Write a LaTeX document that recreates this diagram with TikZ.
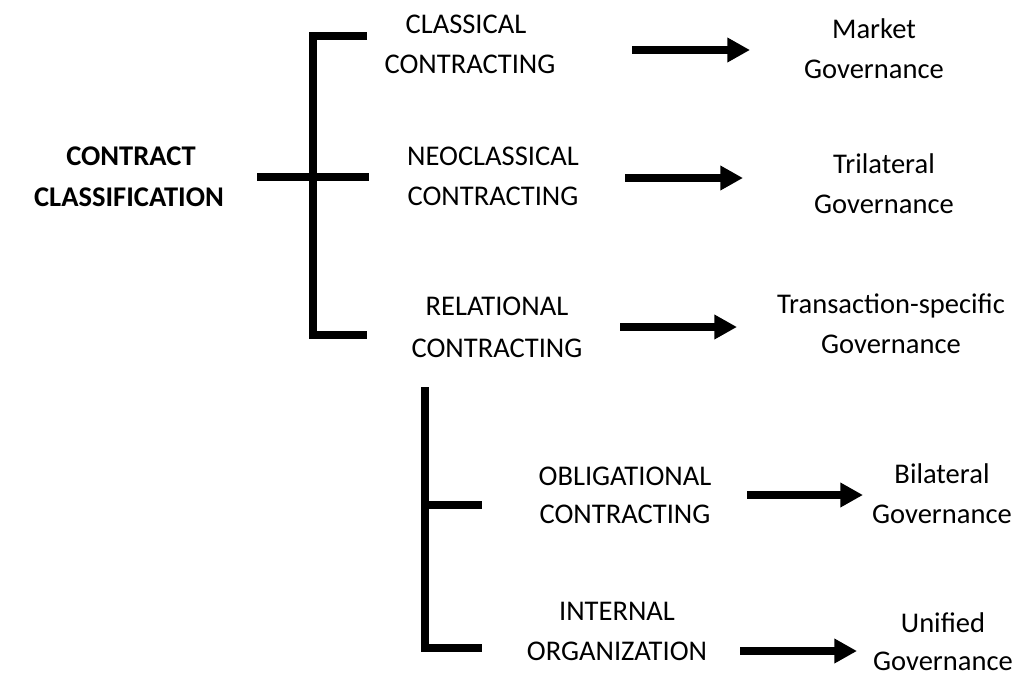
\documentclass[tikz,border=0pt]{standalone}
\usepackage{fontspec}
\setmainfont{Carlito}
\usetikzlibrary{arrows.meta}
\begin{document}
\begin{tikzpicture}[x=0.75pt,y=-0.75pt,
  lbl/.style={anchor=base,inner sep=0pt,font=\fontsize{21.4}{30}\selectfont},
  blbl/.style={lbl,font=\fontsize{21.4}{30}\selectfont\bfseries},
  brk/.style={line width=6.3pt,line join=miter},
  brkb/.style={line width=5.5pt,line join=miter},
  arr/.style={line width=6pt,-{Triangle[length=17pt,width=17.5pt]}}]
\useasboundingbox (0,0) rectangle (1016,675);
% left title
\node[blbl] (t1) at (131,165) {CONTRACT};
\node[blbl] (t2) at (129,206) {CLASSIFICATION};
% middle labels
\node[lbl] (c1) at (466,33) {CLASSICAL};
\node[lbl] (c2) at (470,73) {CONTRACTING};
\node[lbl] (n1) at (493,165) {NEOCLASSICAL};
\node[lbl] (n2) at (493,205) {CONTRACTING};
\node[lbl] (r1) at (497,315) {RELATIONAL};
\node[lbl] (r2) at (497,357) {CONTRACTING};
\node[lbl] (o1) at (625,485) {OBLIGATIONAL};
\node[lbl] (o2) at (625,523) {CONTRACTING};
\node[lbl] (i1) at (617,620) {INTERNAL};
\node[lbl] (i2) at (617,660) {ORGANIZATION};
% right labels
\node[lbl] (m1) at (874,38) {Market};
\node[lbl] (m2) at (874,78) {Governance};
\node[lbl] (l1) at (884,173) {Trilateral};
\node[lbl] (l2) at (884,213) {Governance};
\node[lbl] (s1) at (891,313) {Transaction-specific};
\node[lbl] (s2) at (891,353) {Governance};
\node[lbl] (b1) at (942,483) {Bilateral};
\node[lbl] (b2) at (942,523) {Governance};
\node[lbl] (u1) at (943,632) {Unified};
\node[lbl] (u2) at (943,670) {Governance};
% bracket 1
\coordinate (k1a) at (367,36);
\coordinate (k1b) at (313,36);
\coordinate (k1c) at (313,335);
\coordinate (k1d) at (367,335);
\coordinate (k1e) at (257,177);
\coordinate (k1f) at (369,177);
\draw[brk] (k1a) -- (k1b) -- (k1c) -- (k1d);
\draw[brk] (k1e) -- (k1f);
% bracket 2
\coordinate (k2a) at (425,387);
\coordinate (k2b) at (425,648);
\coordinate (k2c) at (482,648);
\coordinate (k2d) at (425,505);
\coordinate (k2e) at (482,505);
\draw[brkb] (k2a) -- (k2b) -- (k2c);
\draw[brkb] (k2d) -- (k2e);
% arrows
\coordinate (a1s) at (632,50);  \coordinate (a1e) at (750,50);
\coordinate (a2s) at (625,178); \coordinate (a2e) at (743,178);
\coordinate (a3s) at (620,327); \coordinate (a3e) at (737,327);
\coordinate (a4s) at (747,495); \coordinate (a4e) at (863,495);
\coordinate (a5s) at (740,651); \coordinate (a5e) at (857,651);
\draw[arr] (a1s) -- (a1e);
\draw[arr] (a2s) -- (a2e);
\draw[arr] (a3s) -- (a3e);
\draw[arr] (a4s) -- (a4e);
\draw[arr] (a5s) -- (a5e);
\end{tikzpicture}
\end{document}
